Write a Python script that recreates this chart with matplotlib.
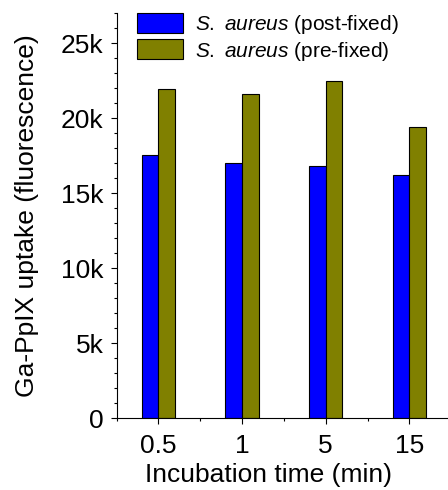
import numpy as np
import matplotlib
matplotlib.use("Agg")
import matplotlib.pyplot as plt
from matplotlib.ticker import MultipleLocator, FuncFormatter, FixedLocator

plt.rcParams['font.family'] = ['Liberation Sans', 'DejaVu Sans']
plt.rcParams['mathtext.fontset'] = 'custom'
plt.rcParams['mathtext.rm'] = 'Liberation Sans'
plt.rcParams['mathtext.it'] = 'Liberation Sans:italic'

# data
times = ['0.5', '1', '5', '15']
post_fixed = [17530, 17050, 16800, 16200]
pre_fixed = [21930, 21650, 22500, 19400]
labels = ['post-fixed', 'pre-fixed']

x = np.arange(len(times))
w = 0.2

fig = plt.figure(figsize=(4.48, 4.90), dpi=100)
ax = fig.add_axes([0.2603, 0.1463, 0.7469, 0.8266])

ax.bar(x - w / 2, post_fixed, w, color='#0000ff', edgecolor='black', linewidth=0.8,
       label=r'$\it{S.}$ $\it{aureus}$ (' + labels[0] + ')')
ax.bar(x + w / 2, pre_fixed, w, color='#808000', edgecolor='black', linewidth=0.8,
       label=r'$\it{S.}$ $\it{aureus}$ (' + labels[1] + ')')

ax.set_xlim(-0.5, 3.5)
ax.set_ylim(0, 27000)
ax.set_xticks(x)
ax.set_xticklabels(times)
ax.xaxis.set_minor_locator(FixedLocator([-0.5, 0.5, 1.5, 2.5, 3.5]))
ax.yaxis.set_major_locator(MultipleLocator(5000))
ax.yaxis.set_minor_locator(MultipleLocator(1000))
ax.yaxis.set_major_formatter(FuncFormatter(lambda v, p: '0' if v == 0 else '%dk' % (v / 1000)))

for s in ['top', 'right']:
    ax.spines[s].set_visible(False)
for s in ['left', 'bottom']:
    ax.spines[s].set_linewidth(0.8)

ax.tick_params(which='major', direction='out', length=4.5, width=0.8, labelsize=19, pad=5)
ax.tick_params(which='minor', direction='out', length=2.5, width=0.8)
ax.tick_params(axis='x', which='major', pad=7)

ax.set_xlabel('Incubation time (min)', fontsize=19)
ax.set_ylabel('Ga-PpIX uptake (fluorescence)', fontsize=19)
ax.xaxis.set_label_coords(0.4525, -0.11)
ax.yaxis.set_label_coords(-0.232, 0.5)

ax.legend(loc='upper left', bbox_to_anchor=(0.06, 1.0), frameon=False, fontsize=15,
          borderpad=0, borderaxespad=0, handlelength=2.2, handleheight=1.1,
          handletextpad=0.6, labelspacing=0.15)

fig.savefig('out.png', dpi=100)
